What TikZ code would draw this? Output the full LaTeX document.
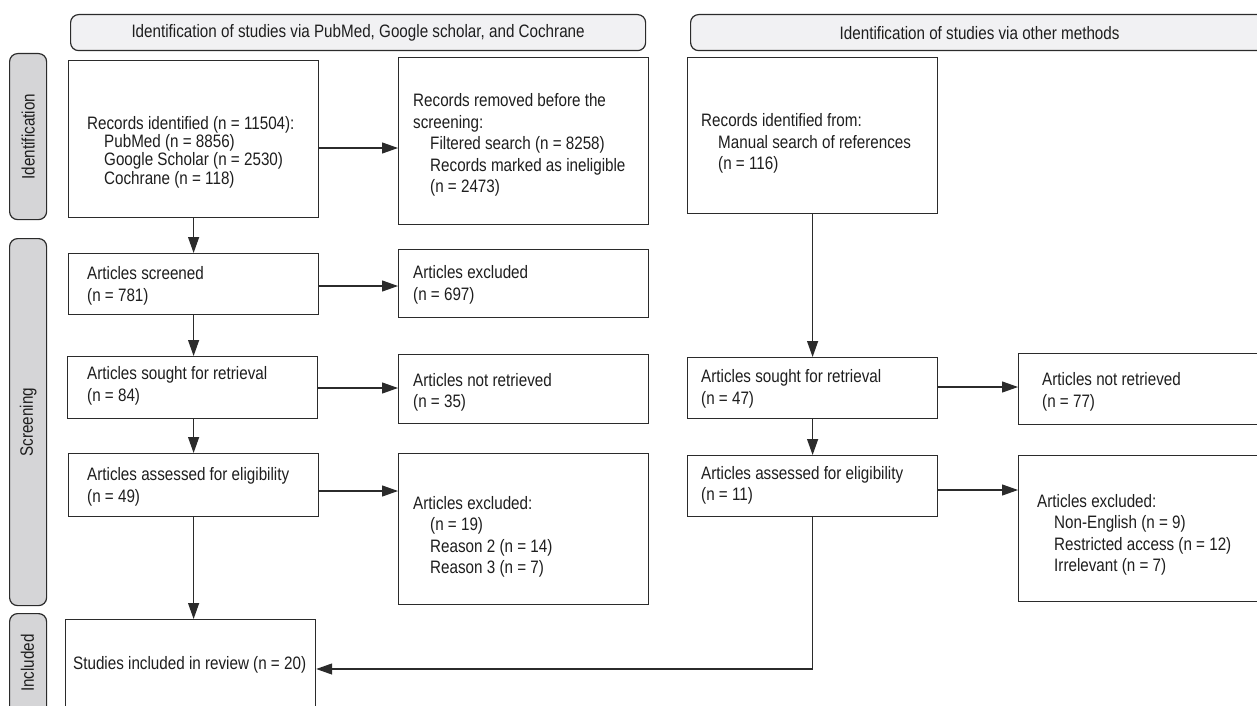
\documentclass[tikz,border=0pt]{standalone}
\usepackage{fontspec}
\setmainfont[FakeStretch=0.845]{Liberation Sans}
\usetikzlibrary{arrows.meta}
\definecolor{ln}{HTML}{2B2B2B}
\definecolor{hdrfill}{HTML}{F1F1F3}
\definecolor{sidefill}{HTML}{D5D5D7}
\definecolor{tx}{HTML}{1E1E1E}
\begin{document}
\begin{tikzpicture}[x=1pt,y=-1pt,
  box/.style={draw=ln, line width=1.2pt, rectangle, inner sep=0pt, anchor=north west},
  txt/.style={anchor=west, align=left, inner sep=0pt, text=tx, font=\fontsize{18}{21.5}\selectfont},
  hdr/.style={draw=ln, line width=1.2pt, fill=hdrfill, rounded corners=8pt, rectangle, inner sep=0pt, anchor=north west, text=tx, font=\fontsize{18}{21.5}\selectfont},
  side/.style={draw=ln, line width=1.2pt, fill=sidefill, rounded corners=8pt, rectangle, inner sep=0pt, anchor=north west},
  sidetxt/.style={rotate=90, inner sep=0pt, text=tx, font=\fontsize{18}{21.5}\selectfont},
  arr/.style={draw=ln, line width=1.2pt, -{Triangle[length=16pt,width=11pt]}},
  lnk/.style={draw=ln, line width=1.2pt}]
\useasboundingbox (0,0) rectangle (1257,706);
\clip (0,0) rectangle (1257,706);
\fill[white] (0,0) rectangle (1257,706);

% headers
\node[hdr, minimum width=575pt, minimum height=36pt] (H1) at (70,14) {Identification of studies via PubMed, Google scholar, and Cochrane};
\node[hdr, minimum width=578pt, minimum height=36pt] (H2) at (690,14) {Identification of studies via other methods};

% side labels
\node[side, minimum width=37pt, minimum height=166pt] (S1) at (9,53) {};
\node[side, minimum width=37pt, minimum height=367pt] (S2) at (9,238) {};
\node[side, minimum width=37pt, minimum height=130pt] (S3) at (9,613) {};
\node[sidetxt] (S1t) at (S1.center) {Identification};
\node[sidetxt] (S2t) at (S2.center) {Screening};
\node[sidetxt] (S3t) at (27.5,663) {Included};

% boxes
\node[box, minimum width=250pt, minimum height=157pt] (A) at (68,60) {};
\node[box, minimum width=250pt, minimum height=167pt] (B) at (398,57) {};
\node[box, minimum width=250pt, minimum height=156pt] (C) at (687,57) {};
\node[box, minimum width=250pt, minimum height=61pt] (D) at (68,253) {};
\node[box, minimum width=250pt, minimum height=68pt] (E) at (398,249) {};
\node[box, minimum width=250pt, minimum height=62pt] (F) at (67,356) {};
\node[box, minimum width=250pt, minimum height=69pt] (G) at (398,354) {};
\node[box, minimum width=250pt, minimum height=61pt] (H) at (687,357) {};
\node[box, minimum width=250pt, minimum height=71pt] (I) at (1018,353) {};
\node[box, minimum width=250pt, minimum height=63pt] (J) at (68,453) {};
\node[box, minimum width=250pt, minimum height=151pt] (K) at (398,453) {};
\node[box, minimum width=250pt, minimum height=61pt] (L) at (687,455) {};
\node[box, minimum width=250pt, minimum height=146pt] (M) at (1018,455) {};
\node[box, minimum width=250pt, minimum height=120pt] (N) at (65,619) {};

% texts
\node[txt, font=\fontsize{18}{18.3}\selectfont] (At) at (87,152) {Records identified (n = 11504):\\\hspace*{17pt}PubMed (n = 8856)\\\hspace*{17pt}Google Scholar (n = 2530)\\\hspace*{17pt}Cochrane (n = 118)};
\node[txt] (Bt) at (413,145) {Records removed before the\\screening:\\\hspace*{17pt}Filtered search (n = 8258)\\\hspace*{17pt}Records marked as ineligible\\\hspace*{17pt}(n = 2473)};
\node[txt] (Ct) at (701,143.5) {Records identified from:\\\hspace*{17pt}Manual search of references\\\hspace*{17pt}(n = 116)};
\node[txt] (Dt) at (87,286) {Articles screened\\(n = 781)};
\node[txt] (Et) at (413,285) {Articles excluded\\(n = 697)};
\node[txt] (Ft) at (87,386) {Articles sought for retrieval\\(n = 84)};
\node[txt] (Gt) at (413,392.5) {Articles not retrieved\\(n = 35)};
\node[txt] (Ht) at (701,389) {Articles sought for retrieval\\(n = 47)};
\node[txt] (It) at (1042,392) {Articles not retrieved\\(n = 77)};
\node[txt] (Jt) at (87,487) {Articles assessed for eligibility\\(n = 49)};
\node[txt] (Kt) at (413,537) {Articles excluded:\\\hspace*{17pt}(n = 19)\\\hspace*{17pt}Reason 2 (n = 14)\\\hspace*{17pt}Reason 3 (n = 7)};
\node[txt] (Lt) at (701,485.5) {Articles assessed for eligibility\\(n = 11)};
\node[txt] (Mt) at (1037,535) {Articles excluded:\\\hspace*{17pt}Non-English (n = 9)\\\hspace*{17pt}Restricted access (n = 12)\\\hspace*{17pt}Irrelevant (n = 7)};
\node[txt] (Nt) at (73,665) {Studies included in review (n = 20)};

% row coordinates
\coordinate (r1) at (0,148);
\coordinate (r2) at (0,286);
\coordinate (r3) at (0,388);
\coordinate (r4) at (0,491);
\coordinate (r5) at (0,387);
\coordinate (r6) at (0,490);
\coordinate (r7) at (0,669);

% connectors
\draw[arr] (A.south) -- (A.south |- D.north);
\draw[arr] (A.south |- D.south) -- (A.south |- F.north);
\draw[arr] (A.south |- F.south) -- (A.south |- J.north);
\draw[arr] (A.south |- J.south) -- (A.south |- N.north);
\draw[arr] (A.east |- r1) -- (B.west |- r1);
\draw[arr] (D.east |- r2) -- (E.west |- r2);
\draw[arr] (F.east |- r3) -- (G.west |- r3);
\draw[arr] (J.east |- r4) -- (K.west |- r4);
\draw[arr] (C.south) -- (C.south |- H.north);
\draw[arr] (H.south) -- (H.south |- L.north);
\draw[arr] (H.east |- r5) -- (I.west |- r5);
\draw[arr] (L.east |- r6) -- (M.west |- r6);
\draw[arr] (L.south) |- (N.east |- r7);
\end{tikzpicture}
\end{document}
